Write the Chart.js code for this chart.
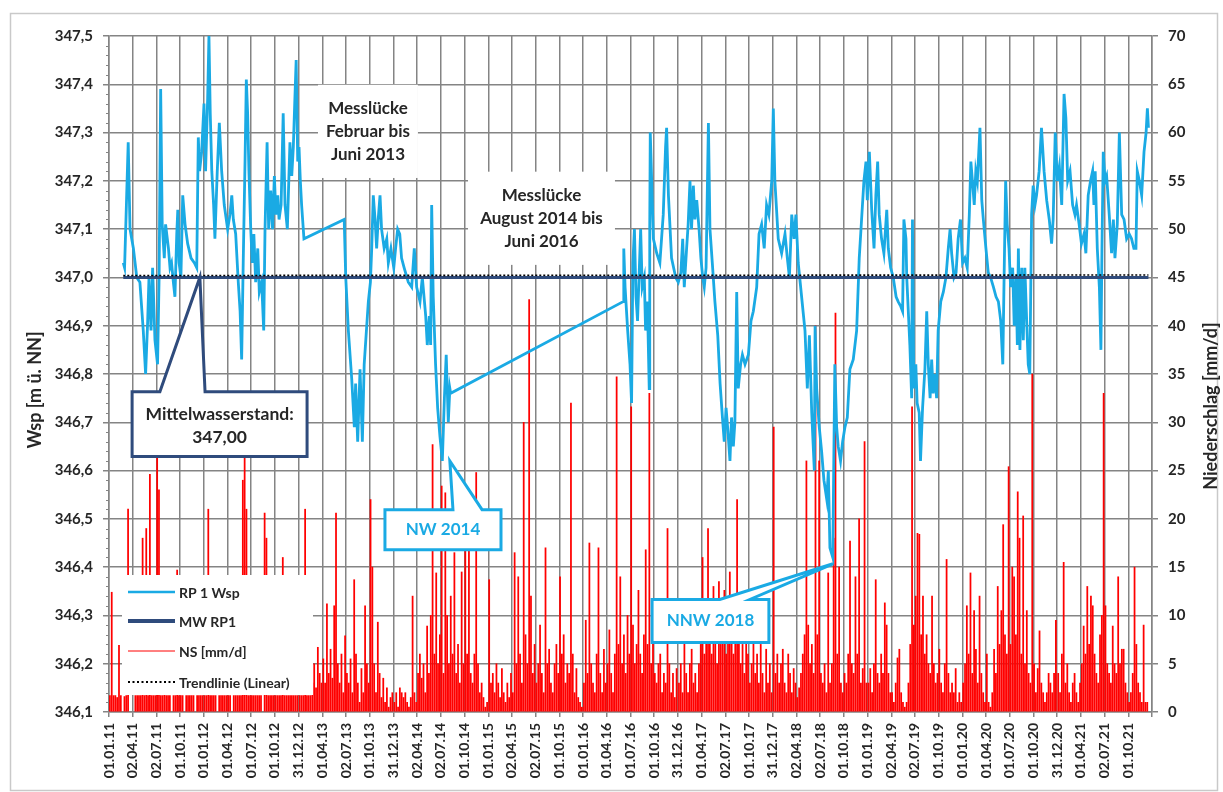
<!DOCTYPE html>
<html><head><meta charset="utf-8">
<script src="https://cdn.jsdelivr.net/npm/chart.js@4.4.1/dist/chart.umd.min.js"></script>
<style>html,body{margin:0;padding:0;background:#fff}#wrap{position:relative;width:1223px;height:792px}</style>
</head><body><div id="wrap"><canvas id="c" width="1223" height="792"></canvas></div>
<script>
// ================= DATA =================
// x axis: days since 01.01.2011
const xTickLabels = ['01.01.11','02.04.11','02.07.11','01.10.11','01.01.12','01.04.12','01.07.12','01.10.12','31.12.12','01.04.13','02.07.13','01.10.13','31.12.13','02.04.14','02.07.14','01.10.14','01.01.15','02.04.15','02.07.15','01.10.15','01.01.16','01.04.16','01.07.16','01.10.16','31.12.16','01.04.17','02.07.17','01.10.17','31.12.17','02.04.18','02.07.18','01.10.18','01.01.19','02.04.19','02.07.19','01.10.19','01.01.20','01.04.20','01.07.20','01.10.20','31.12.20','01.04.21','02.07.21','01.10.21'];
const xTickStep = 91.3125;   // days between date ticks
const xTickCount = 44;

// RP 1 Wsp [m ü. NN] : day offset and water level
const wspDay = [55,60,74,81,94,107,119,132,141,149,154,162,168,177,187,193,199,205,213,218,229,235,241,248,254,261,265,270,277,284,293,303,316,329,338,344,349,357,366,372,380,385,390,396,403,408,417,425,434,444,457,466,473,479,488,498,505,511,517,524,529,534,539,546,552,558,565,573,579,588,596,601,609,615,623,630,637,643,650,655,663,671,678,687,697,704,710,716,721,727,732,737,742,751,
906,912,922,935,945,950,958,967,976,983,999,1007,1012,1018,1025,1031,1037,1044,1050,1060,1070,1076,1086,1097,1104,1112,1120,1127,1137,1153,1166,1176,1185,1198,1207,1220,1226,1234,1239,1243,1249,1258,1266,1275,1284,1292,1299,1307,1313,1316,
1981,1983,1988,1998,2007,2013,2018,2024,2030,2036,2043,2048,2054,2062,2067,2074,2081,2083,2085,2097,2110,2122,2135,2144,2148,2155,2167,2183,2193,2203,2210,2216,2225,2231,2238,2244,2251,2257,2264,2273,2280,2287,2293,2300,2309,2315,2324,2334,2345,2354,2363,2370,2377,2383,2392,2398,2405,2411,2418,2424,2433,2440,2450,2463,2473,2482,2495,2504,2514,2524,2533,2542,2553,2559,2565,2578,2591,2604,2613,2621,2630,2639,2646,2655,2668,2681,2690,2698,2707,2717,2720,2726,2736,2745,2754,2765,2771,2777,2788,2796,2803,2809,2818,2826,2835,2844,2854,2867,2880,2890,2899,2908,2916,2921,2929,2938,2947,2954,2961,2967,2976,2985,2996,3002,3011,3021,3032,3040,3050,3057,3062,3070,3073,3085,3092,3095,3100,3108,3113,3121,3126,3134,3143,3150,3156,3163,3169,3175,3182,3188,3194,3204,3214,3224,3233,3240,3246,3255,3263,3271,3280,3288,3297,3306,3314,3320,3326,3333,3339,3345,3355,3362,3368,3378,3387,3396,3407,3417,3426,3435,3443,3448,3454,3460,3467,3473,3481,3487,3494,3499,3503,3509,3516,3522,3528,3535,3541,3547,3554,3560,3567,3573,3583,3592,3602,3612,3622,3631,3637,3645,3653,3661,3670,3679,3686,3693,3702,3712,3721,3727,3737,3746,3756,3763,3772,3781,3789,3794,3799,3807,3815,3821,3825,3830,3837,3843,3853,3862,3869,3875,3884,3892,3901,3910,3920,3930,3939,3948,3956,3961,3969,3978,3987,3995,4000,4004];
const wspVal = [347.03,347.02,347.28,347.10,347.06,347.00,346.99,346.89,346.80,346.91,347.00,346.89,347.02,346.87,346.82,347.00,347.39,347.11,347.04,347.11,347.06,347.02,347.03,346.99,346.96,347.09,347.14,347.03,347.00,347.17,347.11,347.07,347.04,347.03,347.02,347.29,347.22,347.26,347.36,347.22,347.37,347.50,347.34,347.22,347.15,347.08,347.22,347.32,347.22,347.15,347.10,347.13,347.17,347.12,347.09,346.99,346.93,346.83,347.03,347.24,347.41,347.34,347.22,347.10,347.03,347.09,346.99,347.06,346.97,346.99,346.89,347.10,347.28,347.10,347.18,347.10,347.21,347.13,347.17,347.12,347.15,347.34,347.15,347.10,347.28,347.21,347.27,347.37,347.45,347.24,347.27,347.20,347.15,347.08,
347.12,347.00,346.89,346.79,346.69,346.78,346.66,346.81,346.66,346.82,346.95,346.99,347.06,347.17,347.12,347.06,347.12,347.17,347.10,347.06,347.08,347.03,347.06,347.02,347.06,347.10,347.09,347.04,347.02,346.99,346.98,347.06,346.98,346.95,347.00,346.92,346.86,346.92,346.86,347.15,346.96,346.82,346.73,346.67,346.62,346.75,346.84,346.70,346.77,346.76,
346.95,347.06,346.98,346.89,346.82,346.74,347.03,347.10,346.96,346.91,347.02,347.10,346.98,347.00,346.89,346.95,346.77,347.10,347.30,347.08,347.05,347.03,347.13,347.27,347.31,347.17,347.04,347.00,346.99,347.01,347.08,346.98,347.06,347.11,347.20,347.10,347.19,347.12,347.16,347.10,347.04,347.00,346.98,347.02,347.32,347.10,347.03,346.95,346.88,346.78,346.71,346.66,346.73,346.69,346.62,346.71,346.65,346.70,346.97,346.77,346.82,346.84,346.82,346.84,346.91,346.93,346.98,347.09,347.11,347.06,347.15,347.13,347.20,347.35,347.20,347.08,347.05,347.09,347.04,347.00,347.13,347.08,347.13,347.03,346.96,346.89,346.77,346.88,346.72,346.60,346.90,346.77,346.69,346.64,346.58,346.54,346.60,346.44,346.42,346.82,346.69,346.65,346.62,346.66,346.69,346.71,346.81,346.83,346.89,347.04,347.12,347.20,347.24,347.16,347.26,347.14,347.06,347.17,347.24,347.13,347.08,347.05,347.14,347.06,347.02,347.00,346.96,346.95,346.94,346.93,347.12,347.08,347.00,346.86,346.75,347.12,346.77,346.82,346.74,346.72,346.62,346.73,346.81,346.93,346.82,346.75,346.83,346.76,346.80,346.75,346.89,346.95,346.97,347.00,347.06,347.10,347.05,347.00,347.01,347.08,347.12,347.03,347.04,347.02,347.13,347.24,347.20,347.15,347.22,347.20,347.31,347.16,347.12,347.06,347.01,347.00,346.98,346.96,346.95,346.91,346.82,347.00,347.20,347.11,347.06,346.98,347.02,346.90,347.00,346.86,347.06,346.85,347.02,346.87,347.02,346.91,346.82,346.80,347.13,347.19,347.15,347.17,347.22,347.31,347.22,347.16,347.12,347.07,347.12,347.30,347.20,347.23,347.15,347.38,347.33,347.20,347.22,347.15,347.13,347.15,347.11,347.07,347.09,347.05,347.17,347.20,347.22,347.15,347.22,347.06,346.98,346.85,347.06,347.26,347.20,347.21,347.13,347.05,347.12,347.04,347.11,347.30,347.13,347.12,347.08,347.09,347.08,347.06,347.06,347.22,347.20,347.17,347.26,347.30,347.35,347.31];

// MW RP1 (mean water level) and linear trend line
const mwDays = [55, 4004];
const mwVals = [347.00, 347.00];
const trendDays = [55, 4004];
const trendVals = [347.004, 347.005];

// NS [mm/d] : weekly maximum daily precipitation per year (52 weeks each)
const nsYears = [2011,2012,2013,2014,2015,2016,2017,2018,2019,2020,2021];
const ns2011 = [1.7,12.4,1.7,1.7,1.5,6.9,1.7,0,1.6,1.7,21,0,0,0,1.7,1.7,1.7,1.7,18,1.7,19,1.7,24.6,1.7,1.7,1.7,26.8,23,1.7,1.7,14,1.7,1.7,1.7,0,1.7,1.7,14.7,1.7,1.7,1.7,0,1.7,1.7,1.7,1.7,1.7,0,1.7,1.7,1.7,1.7];
const ns2012 = [1.7,1.7,21,1.7,1.7,1.7,1.7,0,1.7,1.7,1.7,1.7,1.7,1.7,1.7,0,1.7,1.7,1.7,1.7,1.7,24,26.4,21,1.7,1.7,1.7,1.7,1.7,1.7,1.7,1.7,0,20.6,18,1.7,1.7,1.7,1.7,1.7,1.7,1.7,1.7,16,1.7,1.7,1.7,1.7,1.7,1.7,1.7,1.7];
const ns2013 = [1.7,1.7,1.7,21,1.7,1.7,1.7,3,5,2.5,6.7,4,3,5.5,3,11.2,4,6.5,3.5,11,20.6,5,3,6,2,7.9,4,3,5.5,2,13.7,6,3,1,4.5,2,11,5,3,22,15,5,2,9.3,4,1.5,3.5,1,2.5,0.5,1.5,2];
const ns2014 = [1,2,0.5,2.5,2,1.5,2,1,0.5,1.5,12,2,1,4,6,3.5,5,2,8.9,4,10,27.7,6,14.4,5,8,23.4,4,22.7,10,5,12,6,16.5,4,7,3,14.5,5,18,6,17,4,3,6,24.8,5,2,3,1.5,0.5,1];
const ns2015 = [13.7,3,4,2,5,3,1.5,4.5,2,1,3,1.5,4,2,16.5,5,14,6,3,30,8,5,42.7,12,4,7,3,5,9,4,2,17,5,6.5,3,2,5,7,4,14,6,8,3,5,4,32,6,2,4.5,1.5,1,0.5];
const ns2016 = [3,9.5,4,17.5,5,3,2,6,17,4,2,6.5,3,5,8.5,4,2,6,34.7,7,14,5,8,4,10,6,31.6,9,5,7,12.6,6,4,8,16.8,7,33,5,9,4,3,5,6,2,4,3,19,5,2,4,1.5,4.5];
const ns2017 = [3,5,2,9,4,2,5,6.5,3,4,2,5,7,16,6,8,19,9,6,13,8,5,13.5,7,9,12.6,6,8,14.5,10,6,9,22,8,5,7,4,9,6,3,5,10.5,4,6,3,7,4,2,6.5,3,5,2];
const ns2018 = [29.5,4,6,3,5,6.5,3,2,6,4,2,4.5,3,1.5,2.5,4,6,8,26,9,5,7,4,40,8,26,4,3,5,2,14.4,3,5,18,41.3,6,15,3,2,4,3,6,17.7,5,4,14,6,20,3,4.5,28,3];
const ns2019 = [3,4.5,2,5,13.7,4,3,6,4,11.3,9,4,2,2,1,3,5.6,6.5,2,1,0.5,1,3,7,31.6,9,12,18.5,18.4,8,12,6,8,5,4,12,5,3,4,6.5,3,2,5,15.8,4,2,3,2,4.5,1,2,1];
const ns2020 = [3,5,11,6,14.4,4,10.5,6.5,3,12,4,2,1,6,1,0.5,2,6.5,4,13,7,10.5,19.4,8,6,25.4,7,15,14,8,22.8,18,6,20.3,5,10.5,4,3,35,5,2,4.5,8.4,3,2,1,2,4,3,2,4,9.5];
const ns2021 = [4,2,6,15.5,3,5,2,1,3,4,2,1,3,5,8.9,6,13,7,12,11,6,4,3,8,10,33,11,5,4,3,8.9,5,4,14,5,6.5,6.5,3,2,1,2,4,15,7,3,2,1,9,1,1,0,0];
const nsByYear = [ns2011,ns2012,ns2013,ns2014,ns2015,ns2016,ns2017,ns2018,ns2019,ns2020,ns2021];

// ================= BUILD =================
const DAY = 86400000, BASE = Date.UTC(2011,0,1);
const wspPts = wspDay.map((d,i)=>({x:d, y:wspVal[i]}));
const mwPts = mwDays.map((d,i)=>({x:d, y:mwVals[i]}));
const trendPts = trendDays.map((d,i)=>({x:d, y:trendVals[i]}));
const nsPts = [];
nsYears.forEach((yr,j)=>{
  const start = (Date.UTC(yr,0,1)-BASE)/DAY;
  nsByYear[j].forEach((v,k)=>{ if(v>0) nsPts.push({x:start+7*k+3.5, y:v}); });
});

const LIGHT='#1AAAE4', NAVY='#2F4B7C', GRID='#848484', TXT='#262626';
const F = 'Lato, "Open Sans", sans-serif';

function polyCallout(ctx, pts, stroke, lw){
  ctx.beginPath(); ctx.moveTo(pts[0][0],pts[0][1]);
  for(let i=1;i<pts.length;i++) ctx.lineTo(pts[i][0],pts[i][1]);
  ctx.closePath(); ctx.fillStyle='#fff'; ctx.fill();
  if(stroke){ ctx.strokeStyle=stroke; ctx.lineWidth=lw; ctx.lineJoin='miter'; ctx.stroke(); }
}
function lines(ctx, arr, cx, cy, lh, font, color){
  ctx.font=font; ctx.fillStyle=color; ctx.textAlign='center'; ctx.textBaseline='middle';
  const y0 = cy - (arr.length-1)*lh/2;
  arr.forEach((t,i)=>ctx.fillText(t,cx,y0+i*lh));
}

const deco = {
  id:'deco',
  beforeDraw(chart){
    const c=chart.ctx; c.save();
    c.fillStyle='#fff'; c.fillRect(0,0,chart.width,chart.height);
    c.strokeStyle='#C9C9C9'; c.lineWidth=1.5; c.strokeRect(10.5,13.5,1207,777);
    c.restore();
  },
  afterDraw(chart){
    const c=chart.ctx, sx=chart.scales.x, sy=chart.scales.y, ca=chart.chartArea;
    const X=d=>sx.getPixelForValue(d), Y=v=>sy.getPixelForValue(v);
    c.save();
    // minor ticks on left axis
    c.strokeStyle=GRID; c.lineWidth=1;
    for(let i=1;i<70;i++){ if(i%5===0) continue; const p=Math.round(Y(346.1+i*0.02))+0.5; c.beginPath(); c.moveTo(sy.right-3,p); c.lineTo(sy.right,p); c.stroke(); }

    // text boxes (Messlücke)
    c.fillStyle='#fff';
    c.fillRect(X(805),Y(347.399),X(1190)-X(805),Y(347.206)-Y(347.399));
    lines(c,['Messlücke','Februar bis','Juni 2013'],(X(805)+X(1190))/2,(Y(347.399)+Y(347.206))/2,23,'bold 17px '+F,TXT);
    c.fillStyle='#fff';
    c.fillRect(X(1383),Y(347.219),X(1949)-X(1383),Y(347.026)-Y(347.219));
    lines(c,['Messlücke','August 2014 bis','Juni 2016'],(X(1383)+X(1949))/2,(Y(347.219)+Y(347.026))/2,23,'bold 17px '+F,TXT);

    // Mittelwasserstand callout
    let L=X(89),R=X(763),T=Y(346.763),B=Y(346.629);
    polyCallout(c,[[L,T],[X(196),T],[X(350),Y(347.0)],[X(370),T],[R,T],[R,B],[L,B]],NAVY,3);
    lines(c,['Mittelwasserstand:','347,00'],(L+R)/2,(T+B)/2+2,23,'bold 17.5px '+F,TXT);

    // NW 2014 callout
    L=X(1063);R=X(1510);T=Y(346.519);B=Y(346.436);
    polyCallout(c,[[L,T],[X(1325),T],[X(1313),Y(346.62)],[X(1437),T],[R,T],[R,B],[L,B]],LIGHT,3);
    lines(c,['NW 2014'],(L+R)/2,(T+B)/2,23,'bold 17px '+F,LIGHT);

    // NNW 2018 callout
    L=X(2092);R=X(2542);T=Y(346.333);B=Y(346.244);
    polyCallout(c,[[L,T],[X(2353),T],[X(2789),Y(346.407)],[X(2469),T],[R,T],[R,B],[L,B]],LIGHT,3);
    lines(c,['NNW 2018'],(L+R)/2,(T+B)/2,23,'bold 17px '+F,LIGHT);

    // legend
    const lx=ca.left+13, ly=ca.bottom-137;
    c.fillStyle='#fff'; c.fillRect(lx,ly,191,120);
    const items=[
      {t:'RP 1 Wsp', col:LIGHT, w:2.5, dash:[]},
      {t:'MW RP1', col:NAVY, w:4, dash:[]},
      {t:'NS [mm/d]', col:'#FF0000', w:1, dash:[]},
      {t:'Trendlinie (Linear)', col:'#000', w:2, dash:[2,2.5]}
    ];
    const offs=[17,46,76,107];
    items.forEach((it,i)=>{
      const yy=ly+offs[i];
      c.beginPath(); c.setLineDash(it.dash); c.strokeStyle=it.col; c.lineWidth=it.w;
      c.moveTo(lx+6,yy); c.lineTo(lx+53,yy); c.stroke(); c.setLineDash([]);
      c.font='bold 14px '+F; c.fillStyle=TXT; c.textAlign='left'; c.textBaseline='middle';
      c.fillText(it.t,lx+57,yy+1);
    });

    // axis titles
    c.font='bold 18px '+F; c.fillStyle=TXT; c.textAlign='center'; c.textBaseline='middle';
    c.save(); c.translate(35,390); c.rotate(-Math.PI/2); c.fillText('Wsp [m ü. NN]',0,0); c.restore();
    c.save(); c.translate(1211,406); c.rotate(-Math.PI/2); c.fillText('Niederschlag [mm/d]',0,0); c.restore();
    c.restore();
  }
};

new Chart(document.getElementById('c'), {
  type:'line',
  data:{datasets:[
    {type:'line', label:'Trendlinie (Linear)', data:trendPts, yAxisID:'y', borderColor:'#000', borderWidth:1.6, borderDash:[2,2], pointRadius:0, order:0},
    {type:'line', label:'MW RP1', data:mwPts, yAxisID:'y', borderColor:NAVY, borderWidth:3, pointRadius:0, order:1},
    {type:'line', label:'RP 1 Wsp', data:wspPts, yAxisID:'y', borderColor:LIGHT, borderWidth:2.8, pointRadius:0, tension:0, order:2},
    {type:'bar', label:'NS [mm/d]', data:nsPts, yAxisID:'y1', backgroundColor:'#FF0000', barThickness:1.1, order:3}
  ]},
  options:{
    responsive:false, animation:false, devicePixelRatio:1,
    layout:{padding:{top:36,left:0,right:0,bottom:0}},
    plugins:{legend:{display:false}, tooltip:{enabled:false}},
    scales:{
      x:{type:'linear', min:0, max:xTickCount*xTickStep, offset:false,
        afterFit(s){ s.height=80; },
        grid:{color:GRID, lineWidth:1.5, drawTicks:true, tickLength:5, offset:false},
        border:{color:GRID, width:1.5},
        ticks:{stepSize:xTickStep, autoSkip:false, maxRotation:90, minRotation:90, padding:6, color:TXT,
          font:{family:F, weight:'bold', size:14}, callback:(v,i)=> (xTickLabels[i] ?? '')}
      },
      y:{type:'linear', position:'left', min:346.1, max:347.5,
        afterFit(s){ s.width=109; },
        grid:{color:GRID, lineWidth:1.5, tickLength:6},
        border:{color:GRID, width:1.5},
        ticks:{stepSize:0.1, padding:10, color:TXT, font:{family:F, weight:'bold', size:15},
          callback:v=>Number(v).toFixed(1).replace('.',',')}
      },
      y1:{type:'linear', position:'right', min:0, max:70,
        afterFit(s){ s.width=71; },
        grid:{drawOnChartArea:false, color:GRID, lineWidth:1.5, tickLength:6},
        border:{color:GRID, width:1.5},
        ticks:{stepSize:5, padding:10, color:TXT, font:{family:F, weight:'bold', size:15}}
      }
    }
  },
  plugins:[deco]
});
</script>
</body></html>
